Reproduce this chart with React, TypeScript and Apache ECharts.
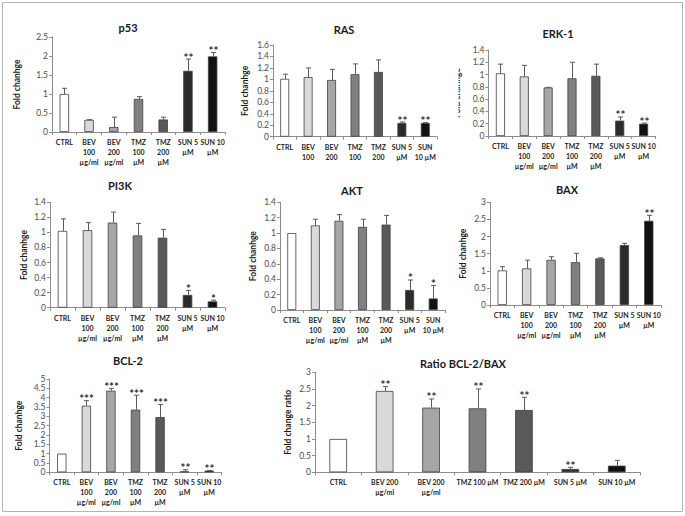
import React, { useEffect, useRef } from "react";
import * as echarts from "echarts";

// ---------- data ----------
const catsStd = ["CTRL", "BEV\n100\nµg/ml", "BEV\n200\nµg/ml", "TMZ\n100\nµM", "TMZ\n200\nµM", "SUN 5\nµM", "SUN 10\nµM"];
const catsRas = ["CTRL", "BEV\n100", "BEV\n200", "TMZ\n100", "TMZ\n200", "SUN 5\nµM", "SUN\n10 µM"];
const catsAkt = ["CTRL", "BEV\n100\nµg/ml", "BEV\n200\nµg/ml", "TMZ\n100\nµM", "TMZ\n200\nµM", "SUN 5\nµM", "SUN\n10 µM"];
const catsRatio = ["CTRL", "BEV 200\nµg/ml", "BEV 200\nµg/ml", "TMZ 100 µM", "TMZ 200 µM", "SUN 5 µM", "SUN 10 µM"];

const p53Mean = [1.0, 0.32, 0.13, 0.87, 0.33, 1.61, 1.99];
const p53Sd = [0.15, 0.005, 0.26, 0.06, 0.06, 0.31, 0.1];
const p53Stars = ["", "", "", "", "", "**", "**"];

const rasMean = [1.01, 1.04, 0.99, 1.09, 1.13, 0.24, 0.24];
const rasSd = [0.08, 0.16, 0.185, 0.18, 0.21, 0.016, 0.005];
const rasStars = ["", "", "", "", "", "**", "**"];

const erkMean = [1.02, 0.97, 0.79, 0.94, 0.98, 0.25, 0.2];
const erkSd = [0.15, 0.18, 0.003, 0.26, 0.19, 0.06, 0.01];
const erkStars = ["", "", "", "", "", "**", "**"];

const pi3kMean = [1.02, 1.03, 1.13, 0.96, 0.93, 0.17, 0.084];
const pi3kSd = [0.16, 0.1, 0.14, 0.16, 0.11, 0.06, 0.016];
const pi3kStars = ["", "", "", "", "", "*", "*"];

const aktMean = [1.0, 1.1, 1.16, 1.08, 1.11, 0.26, 0.15];
const aktSd = [0.0, 0.08, 0.08, 0.1, 0.12, 0.13, 0.17];
const aktStars = ["", "", "", "", "", "*", "*"];

const baxMean = [1.01, 1.07, 1.32, 1.25, 1.36, 1.75, 2.46];
const baxSd = [0.11, 0.24, 0.09, 0.26, 0.02, 0.05, 0.16];
const baxStars = ["", "", "", "", "", "", "**"];

const bclMean = [1.0, 3.57, 4.375, 3.36, 2.96, 0.05, 0.09];
const bclSd = [0.0, 0.27, 0.125, 0.77, 0.68, 0.09, 0.01];
const bclStars = ["", "***", "***", "***", "***", "**", "**"];

const ratioMean = [1.0, 2.44, 1.94, 1.92, 1.87, 0.1, 0.2];
const ratioSd = [0.0, 0.13, 0.26, 0.58, 0.38, 0.05, 0.16];
const ratioStars = ["", "**", "**", "**", "**", "**", ""];

const barColors = ["#ffffff", "#d9d9d9", "#a6a6a6", "#808080", "#595959", "#2b2b2b", "#111111"];

const FONT = 'Lato, "Liberation Sans", sans-serif';

type Panel = {
  title: string;
  yName: string;
  cats: string[];
  mean: number[];
  sd: number[];
  stars: string[];
  max: number;
  interval: number;
  grid: { left: number; top: number; width: number; height: number };
  titlePos: [number, number];
  yNameX: number;
};

const panels: Panel[] = [
  { title: "p53", yName: "Fold chanhge", cats: catsStd, mean: p53Mean, sd: p53Sd, stars: p53Stars, max: 2.5, interval: 0.5,
    grid: { left: 52, top: 37, width: 173, height: 95 }, titlePos: [128, 27], yNameX: 17 },
  { title: "RAS", yName: "Fold chanhge", cats: catsRas, mean: rasMean, sd: rasSd, stars: rasStars, max: 1.6, interval: 0.2,
    grid: { left: 273, top: 45, width: 164, height: 91.7 }, titlePos: [344, 29], yNameX: 245 },
  { title: "ERK-1", yName: "Fold chanhge", cats: catsStd, mean: erkMean, sd: erkSd, stars: erkStars, max: 1.4, interval: 0.2,
    grid: { left: 488.5, top: 50, width: 167, height: 86 }, titlePos: [558, 33], yNameX: 457 },
  { title: "PI3K", yName: "Fold chanhge", cats: catsStd, mean: pi3kMean, sd: pi3kSd, stars: pi3kStars, max: 1.4, interval: 0.2,
    grid: { left: 50, top: 202.3, width: 175, height: 105.4 }, titlePos: [120, 185], yNameX: 24 },
  { title: "AKT", yName: "Fold chanhge", cats: catsAkt, mean: aktMean, sd: aktSd, stars: aktStars, max: 1.4, interval: 0.2,
    grid: { left: 280, top: 202.3, width: 165, height: 107.7 }, titlePos: [352, 190], yNameX: 253 },
  { title: "BAX", yName: "Fold chanhge", cats: catsStd, mean: baxMean, sd: baxSd, stars: baxStars, max: 3, interval: 0.5,
    grid: { left: 490, top: 202.3, width: 171, height: 102.7 }, titlePos: [567, 189], yNameX: 463 },
  { title: "BCL-2", yName: "Fold chanhge", cats: catsStd, mean: bclMean, sd: bclSd, stars: bclStars, max: 5, interval: 0.5,
    grid: { left: 49.5, top: 379, width: 172, height: 93.3 }, titlePos: [128, 360], yNameX: 19 },
  { title: "Ratio BCL-2/BAX", yName: "Fold change ratio", cats: catsRatio, mean: ratioMean, sd: ratioSd, stars: ratioStars, max: 3, interval: 0.5,
    grid: { left: 315, top: 372.3, width: 325, height: 100 }, titlePos: [463, 363], yNameX: 288 },
];

const AXIS_COLOR = "#8c8c8c";

export default function App() {
  const ref = useRef<HTMLDivElement>(null);
  useEffect(() => {
    if (!ref.current) return;
    const chart = echarts.init(ref.current, undefined, { renderer: "svg" });

    const grids: any[] = [];
    const xAxes: any[] = [];
    const yAxes: any[] = [];
    const series: any[] = [];
    const graphics: any[] = [];

    panels.forEach((p, k) => {
      grids.push({ ...p.grid, containLabel: false, outerBoundsMode: "none" });
      xAxes.push({
        type: "category",
        gridIndex: k,
        data: p.cats,
        axisLine: { show: true, lineStyle: { color: AXIS_COLOR, width: 1 } },
        axisTick: { show: true, length: 3, lineStyle: { color: AXIS_COLOR } },
        axisLabel: {
          interval: 0,
          fontSize: 7,
          fontWeight: "bold",
          color: "#262626",
          lineHeight: 10,
          margin: 5,
          fontFamily: FONT,
        },
        splitLine: { show: false },
      });
      yAxes.push({
        type: "value",
        gridIndex: k,
        min: 0,
        max: p.max,
        interval: p.interval,
        axisLine: { show: true, lineStyle: { color: AXIS_COLOR, width: 1 } },
        axisTick: { show: true, length: 3, lineStyle: { color: AXIS_COLOR } },
        axisLabel: { fontSize: 8.5, color: "#4d4d4d", margin: 4, fontFamily: FONT },
        splitLine: { show: false },
      });
      series.push({
        type: "bar",
        xAxisIndex: k,
        yAxisIndex: k,
        barWidth: "38%",
        data: p.mean.map((v, i) => ({ value: v, itemStyle: { color: barColors[i] } })),
        itemStyle: { borderColor: "#404040", borderWidth: 0.8 },
        z: 2,
      });
      const stars = p.stars;
      series.push({
        type: "custom",
        xAxisIndex: k,
        yAxisIndex: k,
        coordinateSystem: "cartesian2d",
        encode: { x: 0, y: [1, 2] },
        data: p.mean.map((v, i) => [i, v, v + p.sd[i]]),
        z: 3,
        renderItem: (params: any, api: any) => {
          const i = api.value(0);
          const base = api.coord([i, api.value(1)]);
          const top = api.coord([i, api.value(2)]);
          const x = Math.round(base[0]) + 0.5;
          const children: any[] = [];
          if (base[1] - top[1] > 0.3) {
            children.push({
              type: "line",
              shape: { x1: x, y1: base[1], x2: x, y2: top[1] },
              style: { stroke: "#595959", lineWidth: 1 },
            });
          }
          if (base[1] - top[1] > 0.3 || p.sd[params.dataIndex] > 0) {
            children.push({
              type: "line",
              shape: { x1: x - 2.5, y1: top[1], x2: x + 2.5, y2: top[1] },
              style: { stroke: "#595959", lineWidth: 1 },
            });
          }
          const s = stars[params.dataIndex];
          if (s) {
            children.push({
              type: "text",
              x: x,
              y: top[1] + 4,
              style: {
                text: s,
                textAlign: "center",
                textVerticalAlign: "bottom",
                fontSize: 11.5,
                fontWeight: "bold",
                fontFamily: FONT,
                fill: "#333333",
              },
            });
          }
          return { type: "group", children };
        },
      });

      graphics.push({
        type: "text",
        x: p.titlePos[0],
        y: p.titlePos[1],
        style: {
          text: p.title,
          textAlign: "center",
          textVerticalAlign: "middle",
          fontSize: 11,
          fontWeight: "bold",
          fontFamily: FONT,
          fill: "#1a1a1a",
        },
      });
      graphics.push({
        type: "text",
        x: p.yNameX,
        y: p.grid.top + p.grid.height / 2,
        rotation: Math.PI / 2,
        style: {
          text: p.yName,
          textAlign: "center",
          textVerticalAlign: "middle",
          fontSize: 8.5,
          fontWeight: "bold",
          fontFamily: FONT,
          fill: "#1a1a1a",
        },
      });
    });

    // ERK-1 axis name is partially hidden in the original
    graphics.push({
      type: "rect",
      shape: { x: 444, y: 55, width: 14.5, height: 75 },
      style: { fill: "#ffffff" },
      z: 100,
    });
    // outer frame
    graphics.push({
      type: "rect",
      shape: { x: 2.5, y: 2.5, width: 680, height: 509 },
      style: { fill: "none", stroke: "#b4b4b4", lineWidth: 1 },
      z: 100,
    });

    chart.setOption({
      animation: false,
      backgroundColor: "#ffffff",
      grid: grids,
      xAxis: xAxes,
      yAxis: yAxes,
      series,
      graphic: { elements: graphics },
    });
    return () => chart.dispose();
  }, []);

  return (
    <div
      ref={ref}
      style={{ position: "absolute", left: 0, top: 0, width: 685, height: 516 }}
    />
  );
}
